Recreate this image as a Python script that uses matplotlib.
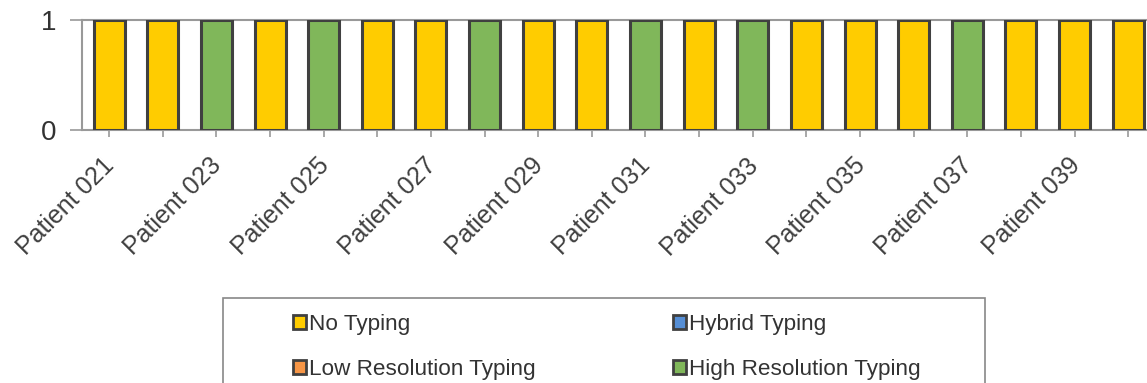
import matplotlib
matplotlib.use("Agg")
import matplotlib.pyplot as plt
from matplotlib.patches import Rectangle, Patch
from matplotlib.transforms import ScaledTranslation
import numpy as np

plt.rcParams['font.family'] = ['Liberation Sans', 'DejaVu Sans']

patients = [f"Patient {n:03d}" for n in range(21, 41)]

# one typing outcome per patient: 1 marks the category that applies
no_typing   = [1, 1, 0, 1, 0, 1, 1, 0, 1, 1, 0, 1, 0, 1, 1, 1, 0, 1, 1, 1]
hybrid      = [0] * 20
low_res     = [0] * 20
high_res    = [0, 0, 1, 0, 1, 0, 0, 1, 0, 0, 1, 0, 1, 0, 0, 0, 1, 0, 0, 0]

series = [
    ("No Typing", no_typing, "#FFCC00"),
    ("Hybrid Typing", hybrid, "#558ED5"),
    ("Low Resolution Typing", low_res, "#F79646"),
    ("High Resolution Typing", high_res, "#80B75A"),
]

W, H = 1147, 383
fig = plt.figure(figsize=(W / 100, H / 100), dpi=100)
ax = fig.add_axes([82.3 / W, 1 - 130 / H, (1155 - 82.3) / W, 110 / H])

x = np.arange(len(patients))
bottom = np.zeros(len(patients))
edge = "#404040"
for name, vals, col in series:
    vals = np.asarray(vals, dtype=float)
    idx = vals > 0
    ax.bar(x[idx], vals[idx], bottom=bottom[idx], width=0.578, color=col,
           edgecolor=edge, linewidth=2.2, zorder=3)
    bottom += vals

ax.set_xlim(-0.5, len(patients) - 0.5)
ax.set_ylim(0, 1)
ax.set_yticks([0, 1])
ax.set_yticklabels(["0", "1"], fontsize=20, color="#333333")
ax.set_xticks(x)
ax.set_xticklabels([p if i % 2 == 0 else "" for i, p in enumerate(patients)],
                   rotation=45, ha="right", va="top", rotation_mode="anchor",
                   fontsize=18, color="#404040")
ax.tick_params(axis="x", length=5, width=1.2, color="#999999", pad=12)
ax.tick_params(axis="y", length=9, width=1.2, color="#999999", pad=10)

# nudge the slanted category labels so their ends sit over the ticks
shift = ScaledTranslation(-7 / 100, 0, fig.dpi_scale_trans)
for lbl in ax.get_xticklabels():
    lbl.set_transform(lbl.get_transform() + shift)

for s in ["top", "right"]:
    ax.spines[s].set_visible(False)
for s in ["left", "bottom"]:
    ax.spines[s].set_color("#999999")
    ax.spines[s].set_linewidth(1.5)
ax.axhline(1, color="#999999", linewidth=1.5, zorder=1, clip_on=False)

# legend frame
fig.patches.append(Rectangle((223 / W, -0.2), (985 - 223) / W, 0.2 + 1 - 298 / H,
                             transform=fig.transFigure, facecolor="white",
                             edgecolor="#888888", linewidth=1.2, zorder=0))

handles = [Patch(facecolor=c, edgecolor=edge, linewidth=2.0, label=n)
           for n, _, c in series]
order = [0, 2, 1, 3]
fig.legend([handles[i] for i in order], [series[i][0] for i in order],
           ncol=2, frameon=False, loc="upper left",
           bbox_to_anchor=(293 / W, 1 - 314 / H), borderpad=0, borderaxespad=0,
           handlelength=0.58, handleheight=0.58, handletextpad=0.13,
           columnspacing=6.1, labelspacing=1.07, fontsize=16.2,
           labelcolor="#333333")

fig.savefig("out.png", dpi=100)
